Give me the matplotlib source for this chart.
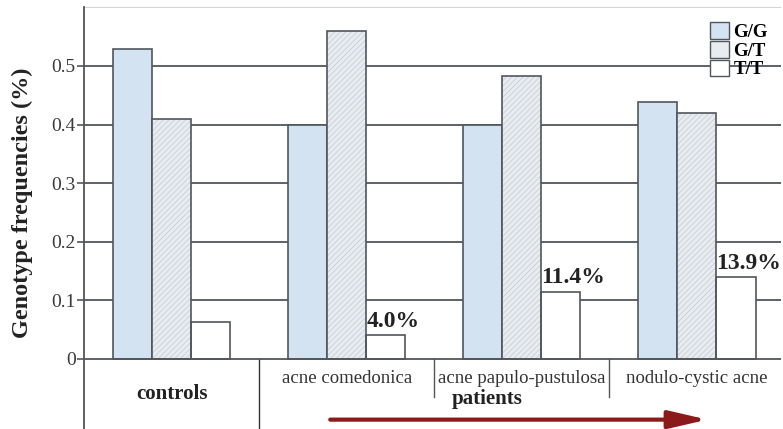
import numpy as np
import matplotlib
matplotlib.use("Agg")
import matplotlib.pyplot as plt
from matplotlib.patches import Patch

groups = ["acne comedonica", "acne papulo-pustulosa", "nodulo-cystic acne"]
group_all = ["controls"] + groups
gg = [0.529, 0.40, 0.40, 0.439]
gt = [0.41, 0.56, 0.483, 0.42]
tt = [0.063, 0.040, 0.114, 0.139]
tt_labels = ["", "4.0%", "11.4%", "13.9%"]
yticks = [0, 0.1, 0.2, 0.3, 0.4, 0.5]

plt.rcParams["font.family"] = ["Liberation Serif", "DejaVu Serif"]
plt.rcParams["hatch.linewidth"] = 0.5

edge = "#50565c"
c_gg = "#d3e3f1"
c_gt = "#e8ecf0"

fig = plt.figure(figsize=(7.83, 4.29), dpi=100)
ax = fig.add_axes([84/783, 0, 697/783, 1 - 7.4/429])

x = np.arange(len(group_all))
w = 0.223

ax.bar(x - w, gg, w, color=c_gg, edgecolor=edge, linewidth=1.2, zorder=3)
ax.bar(x, gt, w, color=c_gt, edgecolor="#c3cad1", hatch="//////", linewidth=0, zorder=3)
ax.bar(x, gt, w, color="none", edgecolor=edge, linewidth=1.2, zorder=4)
ax.bar(x + w, tt, w, color="white", edgecolor=edge, linewidth=1.2, zorder=3)

for xi, v, s in zip(x, tt, tt_labels):
    if s:
        ax.text(xi + w/2, v + 0.006, s, fontsize=17, fontweight="bold",
                ha="left", va="bottom", color="#222222", zorder=5)

ax.set_xlim(-0.5, 3.48)
ax.set_ylim(-0.12, 0.6)
ax.set_yticks(yticks)
ax.set_yticklabels(["0", "0.1", "0.2", "0.3", "0.4", "0.5"], fontsize=14, color="#3a3a3a")
ax.tick_params(axis="y", length=5, width=1.2, color=edge, pad=1)
ax.set_xticks([])
for yv in yticks[1:]:
    ax.axhline(yv, color=edge, lw=1.3, zorder=1)
ax.axhline(0, color=edge, lw=1.3, zorder=5)
ax.axhline(0.6, color="#c8cccf", lw=1.2, zorder=1)

for s in ["top", "right", "bottom"]:
    ax.spines[s].set_visible(False)
ax.spines["left"].set_color(edge)
ax.spines["left"].set_linewidth(1.3)

# separators under the axis
ax.plot([0.5, 0.5], [0, -0.12], color="#333333", lw=1.0, clip_on=False)
ax.plot([1.5, 1.5], [0, -0.065], color="#555555", lw=1.0)
ax.plot([2.5, 2.5], [0, -0.065], color="#555555", lw=1.0)

ax.text(0, -0.06, "controls", fontsize=15, fontweight="bold", ha="center", va="center", color="#222222")
for xi, g in zip(x[1:], groups):
    ax.text(xi, -0.034, g, fontsize=13.5, ha="center", va="center", color="#333333")
ax.text(1.8, -0.068, "patients", fontsize=15, fontweight="bold", ha="center", va="center", color="#222222")

ax.annotate("", xy=(3.06, -0.104), xytext=(0.906, -0.104),
            arrowprops=dict(arrowstyle="-|>,head_length=1.3,head_width=0.3",
                            color="#8b1a1a", lw=3, mutation_scale=18, shrinkA=0, shrinkB=0))

fig.text(22/783, 1 - 203/429, "Genotype frequencies (%)", rotation=90, fontsize=17.5,
         fontweight="bold", ha="center", va="center", color="#222222")

handles = [Patch(facecolor=c_gg, edgecolor=edge, label="G/G"),
           Patch(facecolor=c_gt, edgecolor=edge, label="G/T"),
           Patch(facecolor="white", edgecolor=edge, label="T/T")]
leg = ax.legend(handles=handles, loc="upper left", bbox_to_anchor=(710/783, 1 - 22/429),
                bbox_transform=fig.transFigure, frameon=False, handlelength=1.0,
                handleheight=1.0, labelspacing=0.0, handletextpad=0.25, borderpad=0,
                borderaxespad=0, prop={"size": 13.5, "weight": "bold"})
leg.set_zorder(6)

fig.savefig("out.png", dpi=100)
